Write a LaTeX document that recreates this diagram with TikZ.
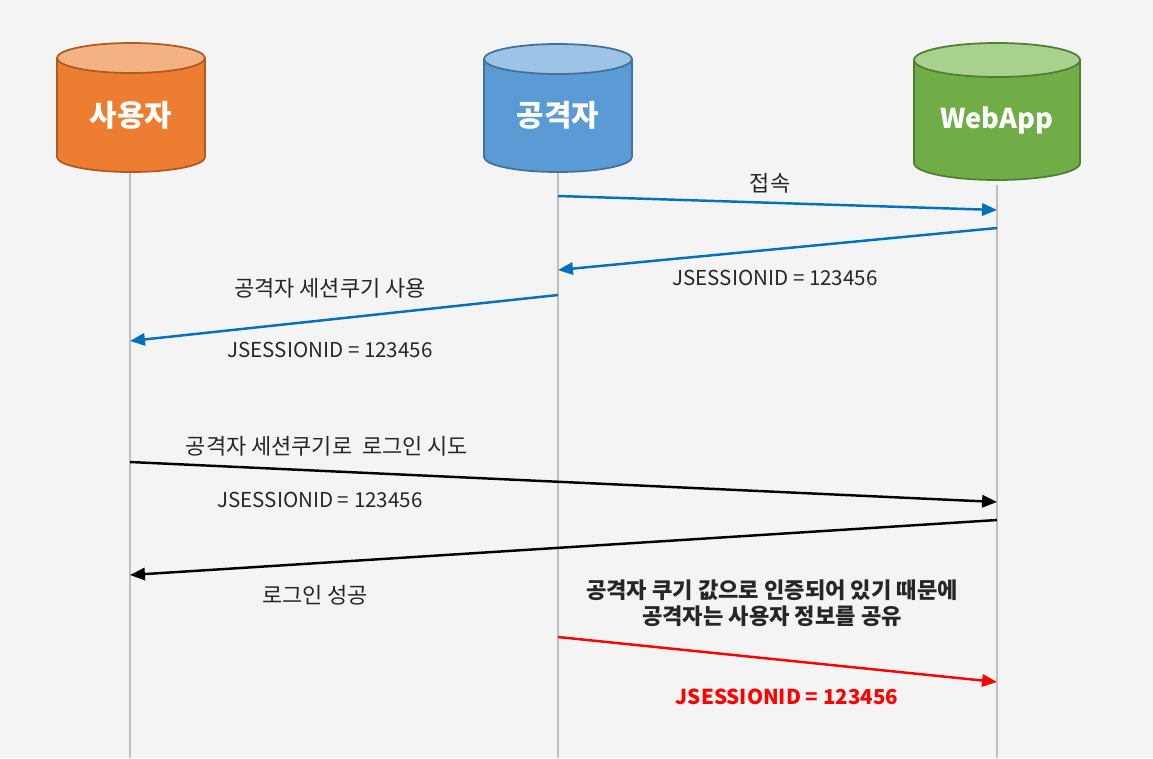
\documentclass[tikz,border=0pt]{standalone}
\usepackage{fontspec}
\setmainfont{Noto Sans CJK KR}
\usetikzlibrary{arrows.meta}
\definecolor{bgcol}{HTML}{F4F4F4}
\definecolor{userbody}{HTML}{ED7D31}
\definecolor{usertop}{HTML}{F4B183}
\definecolor{userline}{HTML}{AE5A21}
\definecolor{atkbody}{HTML}{5B9BD5}
\definecolor{atktop}{HTML}{9DC3E6}
\definecolor{atkline}{HTML}{41719C}
\definecolor{webbody}{HTML}{70AD47}
\definecolor{webtop}{HTML}{A9D18E}
\definecolor{webline}{HTML}{507E32}
\definecolor{msgblue}{HTML}{0070C0}
\definecolor{lifegray}{HTML}{BFBFBF}
\definecolor{txtcol}{HTML}{262626}

\begin{document}
\begin{tikzpicture}[
            x=0.02cm, y=-0.02cm,
            actor/.style={font=\fontsize{17}{20}\selectfont\bfseries, text=white},
            lifeline/.style={draw=lifegray, line width=1.1pt},
            msg/.style={-{Triangle[length=8.5pt,width=7pt]}, line width=1.4pt},
            lbl/.style={font=\fontsize{11.7}{14}\selectfont, text=txtcol},
            kor/.style={font=\fontsize{12.5}{15}\selectfont, text=txtcol},
            note/.style={font=\fontsize{12.6}{15}\selectfont\bfseries, text=txtcol, align=center}
        ]
            % Background
            \fill[bgcol] (0,0) rectangle (1153,758);

            % Cylinders
            \foreach \x/\rx/\yt/\yb/\ry/\c in {131/74/58/157/15/user, 558/74/59/157/15/atk, 997/83/60/163/17/web}{
                \filldraw[fill=\c body, draw=\c line, line width=1pt]
                    (\x-\rx,\yt) -- (\x-\rx,\yb) arc[start angle=180, end angle=0, x radius=\rx, y radius=\ry] -- (\x+\rx,\yt) -- cycle;
                \filldraw[fill=\c top, draw=\c line, line width=1pt] (\x,\yt) ellipse [x radius=\rx, y radius=\ry];
            }
            \node[actor] (user) at (131,115) {사용자};
            \node[actor] (atk) at (558,115) {공격자};
            \node[actor, font=\fontsize{15.5}{18}\selectfont\bfseries] (web) at (997,120) {WebApp};

            % Lifelines
            \coordinate (userbot) at (130,173);
            \coordinate (userend) at (130,758);
            \coordinate (atkbot) at (558,173);
            \coordinate (atkend) at (558,758);
            \coordinate (webbot) at (997,185);
            \coordinate (webend) at (997,758);
            \draw[lifeline] (userbot) -- (userend);
            \draw[lifeline] (atkbot) -- (atkend);
            \draw[lifeline] (webbot) -- (webend);

            % Message points
            \coordinate (a1) at (558,196);
            \coordinate (w1) at (997,210);
            \coordinate (w2) at (997,228);
            \coordinate (a2) at (558,270);
            \coordinate (a3) at (558,295);
            \coordinate (u3) at (130,341);
            \coordinate (u4) at (130,462);
            \coordinate (w4) at (997,502);
            \coordinate (w5) at (997,520);
            \coordinate (u5) at (130,575);
            \coordinate (a6) at (558,637);
            \coordinate (w6) at (997,682);

            % Messages
            \draw[msg, msgblue] (a1) -- (w1);
            \draw[msg, msgblue] (w2) -- (a2);
            \draw[msg, msgblue] (a3) -- (u3);
            \draw[msg, black] (u4) -- (w4);
            \draw[msg, black] (w5) -- (u5);
            \draw[msg, red] (a6) -- (w6);

            % Labels
            \node[kor] (l1) at (770,183) {접속};
            \node[lbl] (l2) at (775,278) {JSESSIONID = 123456};
            \node[kor] (l3) at (330,288) {공격자 세션쿠기 사용};
            \node[lbl] (l3b) at (330,350) {JSESSIONID = 123456};
            \node[kor] (l4) at (327,446) {공격자 세션쿠기로\ \ 로그인 시도};
            \node[lbl] (l4b) at (320,500) {JSESSIONID = 123456};
            \node[kor] (l5) at (315,595) {로그인 성공};
            \node[note] (n6) at (772,603) {공격자 쿠기 값으로 인증되어 있기 때문에\\공격자는 사용자 정보를 공유};
            \node[lbl, font=\fontsize{11.7}{14}\selectfont\bfseries, text=red] (l6) at (787,697) {JSESSIONID = 123456};
        \end{tikzpicture}
\end{document}
